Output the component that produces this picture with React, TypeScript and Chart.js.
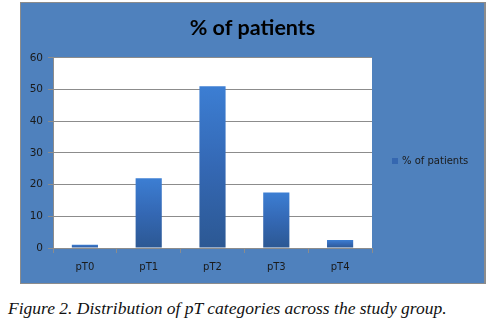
import React, { useEffect, useRef } from "react";
import { Chart, registerables } from "chart.js";

Chart.register(...registerables);

const categories = ["pT0", "pT1", "pT2", "pT3", "pT4"];
const seriesName = "% of patients";
const values = [1, 22, 51, 17.5, 2.5];
const yMin = 0;
const yMax = 60;
const yStep = 10;
const chartTitle = "% of patients";
const captionLabel = "Figure 2.";
const captionText = " Distribution of pT categories across the study group.";

const plotBackground = {
  id: "plotBackground",
  beforeDraw(chart: any) {
    const { ctx, chartArea } = chart;
    if (!chartArea) return;
    ctx.save();
    ctx.fillStyle = "#ffffff";
    ctx.fillRect(chartArea.left, chartArea.top, chartArea.right - chartArea.left, chartArea.bottom - chartArea.top);
    ctx.restore();
  },
};

const sideLegend = {
  id: "sideLegend",
  afterDraw(chart: any) {
    const { ctx, chartArea } = chart;
    const ds = chart.data.datasets[0];
    const x = chartArea.right + 20;
    const y = 158;
    ctx.save();
    ctx.fillStyle = "#3567b0";
    ctx.fillRect(x, y - 3, 6, 6);
    ctx.fillStyle = "#1a1a1a";
    ctx.font = "10px 'DejaVu Sans'";
    ctx.textBaseline = "middle";
    ctx.textAlign = "left";
    ctx.fillText(ds.label, x + 10, y);
    ctx.restore();
  },
};

export default function App() {
  const ref = useRef<HTMLCanvasElement | null>(null);

  useEffect(() => {
    if (!ref.current) return;
    const chart = new Chart(ref.current, {
      type: "bar",
      data: {
        labels: categories,
        datasets: [
          {
            label: seriesName,
            data: values,
            yAxisID: "y",
            categoryPercentage: 1,
            barPercentage: 0.41,
            borderWidth: 0,
            backgroundColor: (c: any) => {
              const ch = c.chart;
              if (!ch.chartArea || c.type !== "data" || !ch.scales.y) return "#3567b0";
              const ys = ch.scales.y;
              const top = ys.getPixelForValue(c.raw as number);
              const bottom = ys.getPixelForValue(0);
              if (!isFinite(top) || !isFinite(bottom) || bottom - top < 0.5) return "#3567b0";
              const g = ch.ctx.createLinearGradient(0, top, 0, bottom);
              g.addColorStop(0, "#3c7ed3");
              g.addColorStop(0.5, "#3468b4");
              g.addColorStop(1, "#2c5893");
              return g;
            },
          },
        ],
      },
      options: {
        responsive: false,
        animation: false,
        devicePixelRatio: 1,
        layout: { padding: { left: 0, right: 0, top: 0, bottom: 0 } },
        plugins: {
          legend: { display: false },
          tooltip: { enabled: false },
          title: {
            display: true,
            text: chartTitle,
            color: "#000000",
            font: { family: "Lato", size: 21.5, weight: "bold" },
            padding: { top: 12, bottom: 17 },
          },
        },
        scales: {
          x: {
            afterFit: (s: any) => {
              s.height = 35;
            },
            grid: {
              drawOnChartArea: false,
              drawTicks: true,
              tickLength: 5,
              color: "#8c8c8c",
              offset: true,
            },
            border: { display: true, color: "#8c8c8c" },
            ticks: {
              color: "#1a1a1a",
              font: { family: "DejaVu Sans", size: 10 },
              padding: 8,
              maxRotation: 0,
            },
          },
          y: {
            min: yMin,
            max: yMax,
            afterFit: (s: any) => {
              s.width = 32;
            },
            grid: { color: "#8c8c8c", tickLength: 5, drawTicks: true },
            border: { display: true, color: "#8c8c8c" },
            ticks: {
              stepSize: yStep,
              color: "#1a1a1a",
              font: { family: "DejaVu Sans", size: 10.5 },
              padding: 5,
            },
          },
          legendSpace: {
            type: "linear",
            position: "right",
            display: true,
            min: 0,
            max: 1,
            grid: { display: false, drawTicks: false },
            border: { display: false },
            ticks: { display: false },
            afterFit: (s: any) => {
              s.width = 112;
            },
          },
        },
      },
      plugins: [plotBackground, sideLegend],
    });
    return () => chart.destroy();
  }, []);

  return (
    <div style={{ position: "absolute", left: 0, top: 0, width: 497, height: 327, background: "#ffffff" }}>
      <div
        style={{
          position: "absolute",
          left: 20,
          top: 2,
          width: 463,
          height: 280,
          background: "#4f81bd",
          borderTop: "1px solid #8c8c8c",
          borderLeft: "1px solid #8c8c8c",
          borderRight: "2px solid #8c8c8c",
          borderBottom: "1px solid #8c8c8c",
        }}
      >
        <canvas ref={ref} width={463} height={280} style={{ display: "block", width: 463, height: 280 }} />
      </div>
      <div
        style={{
          position: "absolute",
          left: 8,
          top: 298,
          fontFamily: "'Liberation Serif', serif",
          fontStyle: "italic",
          fontSize: 17.5,
          lineHeight: "20px",
          color: "#111111",
          whiteSpace: "nowrap",
        }}
      >
        <span>{captionLabel}</span>
        <span>{captionText}</span>
      </div>
    </div>
  );
}
